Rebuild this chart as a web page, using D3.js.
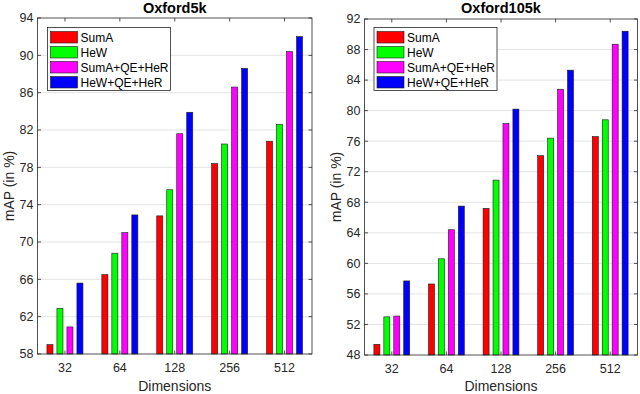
<!DOCTYPE html>
<html>
<head>
<meta charset="utf-8">
<script src="https://cdn.jsdelivr.net/npm/d3@7"></script>
<style>
  html, body { margin: 0; padding: 0; background: #fff; }
  svg { display: block; font-family: 'Liberation Sans', Arial, sans-serif; }
</style>
</head>
<body>
<div id="chart"></div>
<script>
const dims = ['32', '64', '128', '256', '512']
const seriesNames = ['SumA', 'HeW', 'SumA+QE+HeR', 'HeW+QE+HeR']
const seriesColors = ['#ff0000', '#00ff00', '#ff00ff', '#0000ff']

// Oxford5k
const ox5kSumA = [59.0, 66.5, 72.8, 78.4, 80.8]
const ox5kHeW = [62.9, 68.8, 75.6, 80.5, 82.6]
const ox5kSumAQE = [60.9, 71.0, 81.6, 86.6, 90.4]
const ox5kHeWQE = [65.6, 72.9, 83.9, 88.6, 92.0]
const ox5kTicks = [58, 62, 66, 70, 74, 78, 82, 86, 90, 94]

// Oxford105k
const ox105kSumA = [49.4, 57.3, 67.2, 74.1, 76.6]
const ox105kHeW = [53.0, 60.6, 70.9, 76.4, 78.8]
const ox105kSumAQE = [53.1, 64.4, 78.3, 82.8, 88.7]
const ox105kHeWQE = [57.7, 67.5, 80.2, 85.3, 90.4]
const ox105kTicks = [48, 52, 56, 60, 64, 68, 72, 76, 80, 84, 88, 92]

const width = 640
const height = 394
const axisColor = '#262626'

const svg = d3.select('#chart')
  .append('svg')
  .attr('width', width)
  .attr('height', height)

const drawPanel = (opts) => {
  const { title, series, ticks, left, right, top, bottom, legendX } = opts

  const x0 = d3.scaleBand().domain(dims).range([left, right]).padding(0)
  const bw = x0.bandwidth()
  const x1 = d3.scalePoint().domain(seriesNames).range([-0.273 * bw, 0.273 * bw])
  const barW = 0.11 * bw

  const y = d3.scaleLinear()
    .domain([ticks[0], ticks[ticks.length - 1]])
    .range([bottom, top])

  const g = svg.append('g')

  // grid
  g.append('g')
    .selectAll('line')
    .data(ticks.slice(1, -1))
    .join('line')
    .attr('x1', left)
    .attr('x2', right)
    .attr('y1', d => y(d))
    .attr('y2', d => y(d))
    .attr('stroke', '#e3e3e3')
    .attr('stroke-width', 1)

  // bars
  g.append('g')
    .selectAll('g')
    .data(dims)
    .join('g')
    .attr('transform', d => `translate(${x0(d) + bw / 2}, 0)`)
    .selectAll('rect')
    .data((d, i) => seriesNames.map((name, k) => ({ name, k, value: series[k][i] })))
    .join('rect')
    .attr('x', d => x1(d.name) - barW / 2)
    .attr('width', barW)
    .attr('y', d => y(d.value))
    .attr('height', d => y(ticks[0]) - y(d.value))
    .attr('fill', d => seriesColors[d.k])
    .attr('stroke', '#1a1a1a')
    .attr('stroke-width', 0.6)

  // box
  g.append('rect')
    .attr('x', left)
    .attr('y', top)
    .attr('width', right - left)
    .attr('height', bottom - top)
    .attr('fill', 'none')
    .attr('stroke', axisColor)
    .attr('stroke-width', 0.8)

  const tl = 3.5
  // y ticks (left + right, inward)
  g.append('g')
    .selectAll('path')
    .data(ticks)
    .join('path')
    .attr('d', d => `M${left},${y(d)}h${tl}M${right},${y(d)}h${-tl}`)
    .attr('stroke', axisColor)
    .attr('stroke-width', 0.8)

  // x ticks (bottom + top, inward)
  g.append('g')
    .selectAll('path')
    .data(dims)
    .join('path')
    .attr('d', d => {
      const cx = x0(d) + bw / 2
      return `M${cx},${bottom}v${-tl}M${cx},${top}v${tl}`
    })
    .attr('stroke', axisColor)
    .attr('stroke-width', 0.8)

  // y tick labels
  g.append('g')
    .selectAll('text')
    .data(ticks)
    .join('text')
    .attr('x', left - 4)
    .attr('y', d => y(d))
    .attr('dy', '0.35em')
    .attr('text-anchor', 'end')
    .attr('font-size', 12.5)
    .attr('fill', axisColor)
    .text(d => d)

  // x tick labels
  g.append('g')
    .selectAll('text')
    .data(dims)
    .join('text')
    .attr('x', d => x0(d) + bw / 2)
    .attr('y', bottom + 18)
    .attr('text-anchor', 'middle')
    .attr('font-size', 12.5)
    .attr('fill', axisColor)
    .text(d => d)

  // axis labels
  g.append('text')
    .attr('x', (left + right) / 2)
    .attr('y', 391)
    .attr('text-anchor', 'middle')
    .attr('font-size', 14)
    .attr('fill', axisColor)
    .text('Dimensions')

  g.append('text')
    .attr('transform', `translate(${left - 24}, ${(top + bottom) / 2}) rotate(-90)`)
    .attr('text-anchor', 'middle')
    .attr('font-size', 14)
    .attr('fill', axisColor)
    .text('mAP (in %)')

  // title
  g.append('text')
    .attr('x', (left + right) / 2)
    .attr('y', 13)
    .attr('text-anchor', 'middle')
    .attr('font-size', 14.5)
    .attr('font-weight', 'bold')
    .attr('fill', '#000')
    .text(title)

  // legend
  const legend = g.append('g').attr('transform', `translate(${legendX}, 27.5)`)
  legend.append('rect')
    .attr('width', 123)
    .attr('height', 63)
    .attr('fill', '#fff')
    .attr('stroke', axisColor)
    .attr('stroke-width', 0.8)

  const item = legend.selectAll('.item')
    .data(seriesNames)
    .join('g')
    .attr('class', 'item')
    .attr('transform', (d, i) => `translate(3, ${4 + i * 15})`)

  item.append('rect')
    .attr('width', 27)
    .attr('height', 11.5)
    .attr('fill', (d, i) => seriesColors[i])
    .attr('stroke', '#1a1a1a')
    .attr('stroke-width', 0.6)

  item.append('text')
    .attr('x', 30)
    .attr('y', 6)
    .attr('dy', '0.35em')
    .attr('font-size', 12)
    .attr('fill', '#000')
    .text(d => d)
}

drawPanel({
  title: 'Oxford5k',
  series: [ox5kSumA, ox5kHeW, ox5kSumAQE, ox5kHeWQE],
  ticks: ox5kTicks,
  left: 37.5,
  right: 312,
  top: 18,
  bottom: 354,
  legendX: 47.5
})

drawPanel({
  title: 'Oxford105k',
  series: [ox105kSumA, ox105kHeW, ox105kSumAQE, ox105kHeWQE],
  ticks: ox105kTicks,
  left: 364.5,
  right: 637.5,
  top: 19,
  bottom: 355,
  legendX: 374
})
</script>
</body>
</html>
